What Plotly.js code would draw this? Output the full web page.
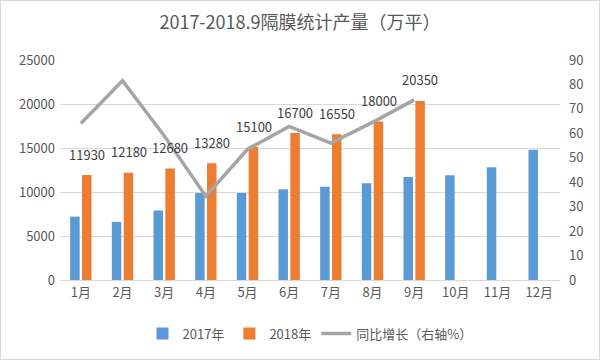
<!DOCTYPE html>
<html>
<head>
<meta charset="utf-8">
<script src="https://cdn.plot.ly/plotly-3.0.1.min.js"></script>
<style>
  html, body { margin: 0; padding: 0; background: #fff; }
  #chart { width: 598px; height: 358px; border: 1px solid #d9d9d9; }
</style>
</head>
<body>
<div id="chart"></div>
<script>
const months = ['1月','2月','3月','4月','5月','6月','7月','8月','9月','10月','11月','12月'];
const v2017 = [7200, 6600, 7900, 9900, 9900, 10300, 10600, 11000, 11700, 11900, 12800, 14800];
const v2018 = [11930, 12180, 12680, 13280, 15100, 16700, 16550, 18000, 20350];
const growth = [64, 81.5, 59, 34.3, 53.5, 62.8, 56, 64.5, 73.7];

const FONT = '"Noto Sans CJK SC", "Noto Sans", sans-serif';
const GREY = '#595959';

const traces = [
  { type: 'bar', name: '2017年', x: months, y: v2017, marker: { color: '#5b9bd5' }, yaxis: 'y' },
  { type: 'bar', name: '2018年', x: months.slice(0, v2018.length), y: v2018, marker: { color: '#ed7d31' }, yaxis: 'y' },
  { type: 'scatter', mode: 'lines', name: '同比增长（右轴%）', x: months.slice(0, growth.length), y: growth,
    line: { color: '#a5a5a5', width: 3.5 }, yaxis: 'y2' }
];

const annotations = v2018.map((v, i) => ({
  x: months[i], y: v, xref: 'x', yref: 'y', text: String(v), showarrow: false,
  xshift: 6, yshift: 21, font: { family: FONT, size: 13, color: '#404040' }
}));

const layout = {
  width: 598, height: 358,
  margin: { l: 59, r: 39, t: 59, b: 78 },
  paper_bgcolor: '#fff', plot_bgcolor: '#fff',
  separators: '.',
  font: { family: FONT, size: 13, color: GREY },
  title: { text: '2017-2018.9隔膜统计产量（万平）', x: 0.5, xanchor: 'center', y: 0.94, yanchor: 'middle',
           font: { family: FONT, size: 18, color: GREY } },
  barmode: 'group', bargap: 0.43, bargroupgap: 0.2,
  xaxis: { type: 'category', categoryarray: months, showgrid: false, showline: true, linecolor: '#d9d9d9',
           ticks: '', tickfont: { family: FONT, size: 13, color: GREY } },
  yaxis: { range: [0, 25000], dtick: 5000, tickformat: 'd', showgrid: true, gridcolor: '#d9d9d9', zeroline: false,
           ticks: '', ticklabelstandoff: 4, tickfont: { family: FONT, size: 13, color: GREY } },
  yaxis2: { range: [0, 90], dtick: 10, overlaying: 'y', side: 'right', showgrid: false, zeroline: false,
            ticks: '', ticklabelstandoff: 8, tickfont: { family: FONT, size: 13, color: GREY } },
  legend: { orientation: 'h', x: 0.5, xanchor: 'center', y: -0.17, yanchor: 'top', itemwidth: 30,
            font: { family: FONT, size: 13, color: GREY }, traceorder: 'normal' },
  annotations: annotations,
  showlegend: true
};

Plotly.newPlot('chart', traces, layout, { displayModeBar: false, staticPlot: true });
</script>
</body>
</html>
